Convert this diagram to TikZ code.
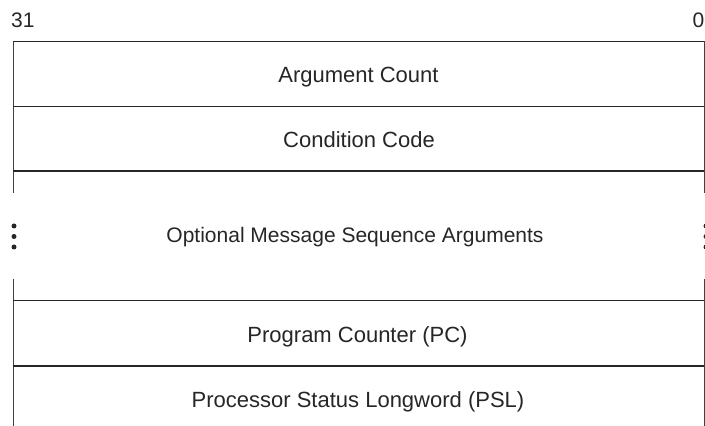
\documentclass[tikz,border=0pt]{standalone}
\usepackage{fontspec}
\setmainfont{Liberation Sans}
\begin{document}
\begin{tikzpicture}[x=1pt,y=1pt,
  lbl/.style={font=\fontsize{22}{26}\selectfont, text height=15.7pt, text depth=0pt, inner sep=0pt, text=black!85},
  lblsm/.style={font=\fontsize{21}{25}\selectfont, text height=15pt, text depth=0pt, inner sep=0pt, text=black!85},
  hline/.style={draw=black!85, line width=1.4pt},
  vline/.style={draw=black!75, line width=1pt},
  dotmark/.style={circle, fill=black!85, inner sep=0pt, minimum size=5pt}]
\useasboundingbox (0,0) rectangle (705,426);
% bit labels
\node[lblsm, anchor=west] (b31) at (11,406) {31};
\node[lblsm, anchor=east] (b0) at (704.5,406) {0};
% corner coordinates
\coordinate (tl) at (13,384.5);
\coordinate (tr) at (704,384.5);
\coordinate (l1) at (13,319.5);
\coordinate (r1) at (704,319.5);
\coordinate (l2) at (13,255);
\coordinate (r2) at (704,255);
\coordinate (lg1) at (13,233);
\coordinate (rg1) at (704,233);
\coordinate (lg2) at (13,147);
\coordinate (rg2) at (704,147);
\coordinate (l3) at (13,125.5);
\coordinate (r3) at (704,125.5);
\coordinate (l4) at (13,60);
\coordinate (r4) at (704,60);
\coordinate (lb) at (13,0);
\coordinate (rb) at (704,0);
% vertical sides
\draw[vline] (tl) -- (lg1);
\draw[vline] (tr) -- (rg1);
\draw[vline] (lg2) -- (lb);
\draw[vline] (rg2) -- (rb);
% horizontal lines
\draw[hline] (tl) -- (tr);
\draw[hline] (l1) -- (r1);
\draw[hline] (l2) -- (r2);
\draw[hline] (l3) -- (r3);
\draw[hline] (l4) -- (r4);
% labels
\node[lbl] (argc) at (358.5,351) {Argument Count};
\node[lbl] (cond) at (359,286.5) {Condition Code};
\node[lblsm] (opt) at (355,190.5) {Optional Message Sequence Arguments};
\node[lbl] (pc) at (357.5,91) {Program Counter (PC)};
\node[lbl] (psl) at (358,26.5) {Processor Status Longword (PSL)};
% ellipsis dots
\node[dotmark] (ld1) at (14,200) {};
\node[dotmark] (ld2) at (14,189.5) {};
\node[dotmark] (ld3) at (14,179) {};
\node[dotmark] (rd1) at (706,200) {};
\node[dotmark] (rd2) at (706,189.5) {};
\node[dotmark] (rd3) at (706,179) {};
\end{tikzpicture}
\end{document}
